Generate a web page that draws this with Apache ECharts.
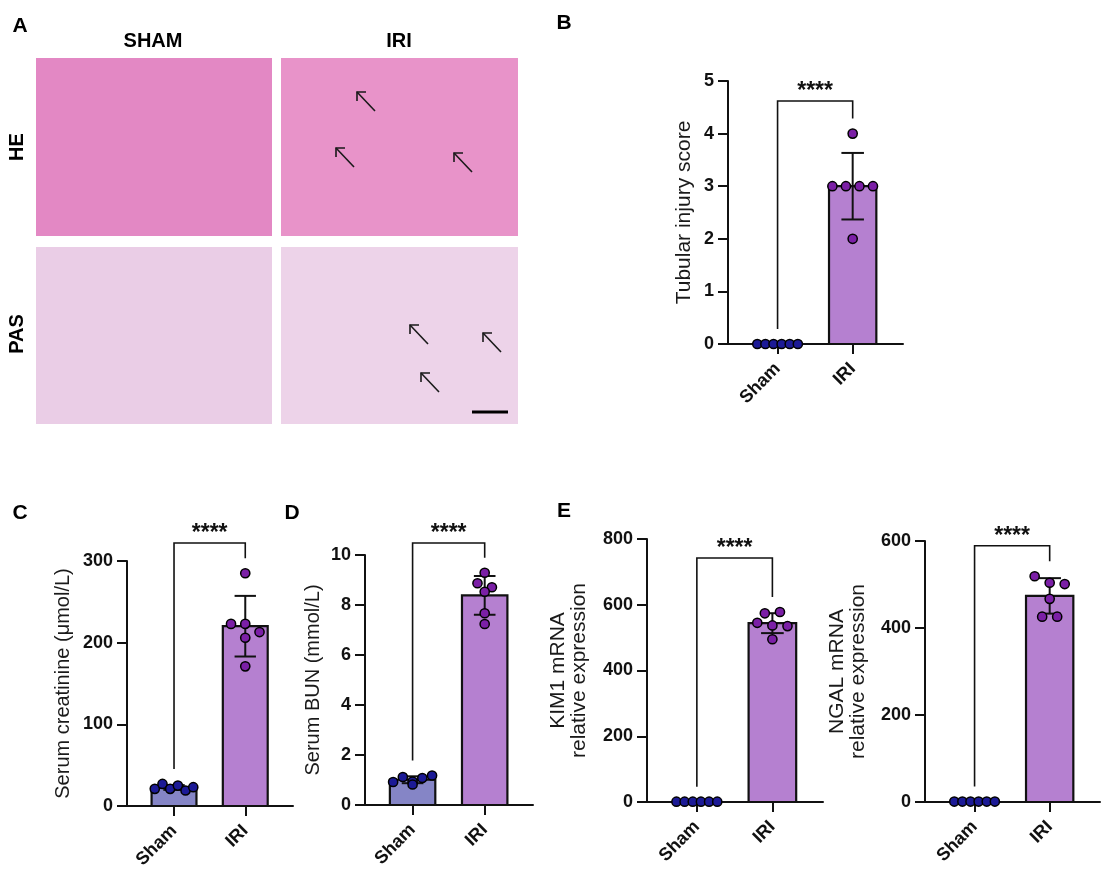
<!DOCTYPE html>
<html><head><meta charset="utf-8">
<script src="https://cdn.jsdelivr.net/npm/echarts@6/dist/echarts.min.js"></script>
<style>html,body{margin:0;padding:0;background:#fff}#c{width:1112px;height:876px}</style>
</head><body><div id="c"></div><script>
// ---------------- data ----------------
const groups = ['Sham', 'IRI'];
const injuryShamValues = [0, 0, 0, 0, 0, 0];
const injuryIriValues = [4, 3, 3, 3, 3, 2];
const creatShamValues = [21, 27, 21, 25, 19, 23];
const creatIriValues = [285, 223, 223, 213, 206, 171];
const bunShamValues = [0.92, 1.12, 0.94, 1.08, 1.18, 0.82];
const bunIriValues = [9.29, 8.87, 8.71, 8.53, 7.67, 7.24];
const kimShamValues = [1, 1, 1, 1, 1, 1];
const kimIriValues = [574, 578, 545, 537, 535, 495];
const ngalShamValues = [1, 1, 1, 1, 1, 1];
const ngalIriValues = [519, 504, 501, 467, 426, 426];
const injuryTicks = [0, 5, 1];
const creatTicks = [0, 300, 100];
const bunTicks = [0, 10, 2];
const kimTicks = [0, 800, 200];
const ngalTicks = [0, 600, 200];
const sigLabel = '****';
const bracketTops = [4.62, 322, 10.48, 742, 589];

// ---------------- style / layout ----------------
const FONT = 'Liberation Sans, Arial, sans-serif';
const INK = '#111';
const barColors = ['#8585c6', '#b580d0'];
const dotColors = ['#1c1a96', '#7b1fa6'];
const BAR_HALF = 0.315, CAP_HALF = 0.15, MAX_STEP = 0.2, ROW_SPAN = 0.54, ROW_TOL = 8.4, LEG_GAP = 15;
const X_MIN = -0.66, X_MAX = 1.67;

const panels = [
  {sham: injuryShamValues, iri: injuryIriValues, ticks: injuryTicks, title: 'Tubular injury score',
   grid: {left: 728, top: 81, width: 175, height: 263}, nameGap: 33, nameSize: 21},
  {sham: creatShamValues, iri: creatIriValues, ticks: creatTicks, title: 'Serum creatinine (\u03bcmol/L)',
   grid: {left: 127, top: 561, width: 166, height: 245}, nameGap: 53, nameSize: 20},
  {sham: bunShamValues, iri: bunIriValues, ticks: bunTicks, title: 'Serum BUN (mmol/L)',
   grid: {left: 365, top: 555, width: 168, height: 250}, nameGap: 41, nameSize: 20},
  {sham: kimShamValues, iri: kimIriValues, ticks: kimTicks, title: 'KIM1 mRNA\nrelative expression',
   grid: {left: 647, top: 539, width: 176, height: 263}, nameGap: 57, nameSize: 21},
  {sham: ngalShamValues, iri: ngalIriValues, ticks: ngalTicks, title: 'NGAL mRNA\nrelative expression',
   grid: {left: 925, top: 541, width: 175, height: 261}, nameGap: 56, nameSize: 21}
];

function mean(a) { return a.reduce((s, v) => s + v, 0) / a.length; }
function sd(a) { const m = mean(a); return Math.sqrt(a.reduce((s, v) => s + (v - m) * (v - m), 0) / (a.length - 1)); }

function swarm(vals, pxPerUnit) {
  const order = vals.map((v, i) => i).sort((a, b) => vals[b] - vals[a] || a - b);
  const rows = []; let cur = null;
  order.forEach(i => {
    if (cur && (vals[cur[0]] - vals[i]) * pxPerUnit <= ROW_TOL) cur.push(i);
    else { cur = [i]; rows.push(cur); }
  });
  const off = new Array(vals.length).fill(0);
  rows.forEach(r => {
    r.sort((a, b) => a - b);
    const n = r.length, step = n > 1 ? Math.min(MAX_STEP, ROW_SPAN / (n - 1)) : 0;
    r.forEach((i, k) => { off[i] = (k - (n - 1) / 2) * step; });
  });
  return off;
}

const grids = [], xAxes = [], yAxes = [], series = [];
panels.forEach((p, pi) => {
  const sets = [p.sham, p.iri];
  grids.push(Object.assign({containLabel: false}, p.grid));
  xAxes.push({
    type: 'value', gridIndex: pi, min: X_MIN, max: X_MAX,
    axisLine: {show: true, onZero: false, lineStyle: {color: INK, width: 2}},
    axisTick: {show: true, customValues: [0, 1], length: 10, lineStyle: {color: INK, width: 2}},
    axisLabel: {customValues: [0, 1], formatter: v => groups[Math.round(v)], rotate: 45, margin: 22,
      fontSize: 18, fontWeight: 'bold', color: INK, fontFamily: FONT},
    splitLine: {show: false}
  });
  yAxes.push({
    type: 'value', gridIndex: pi, min: p.ticks[0], max: p.ticks[1], interval: p.ticks[2],
    name: p.title, nameLocation: 'middle', nameGap: p.nameGap,
    nameTextStyle: {fontSize: p.nameSize, color: '#1a1a1a', fontFamily: FONT, lineHeight: 21},
    axisLine: {show: true, onZero: false, lineStyle: {color: INK, width: 2}},
    axisTick: {show: true, length: 10, lineStyle: {color: INK, width: 2}},
    axisLabel: {fontSize: 18, fontWeight: 'bold', color: INK, margin: 14, fontFamily: FONT},
    splitLine: {show: false}
  });
  // bars
  series.push({
    type: 'custom', xAxisIndex: pi, yAxisIndex: pi, clip: false, z: 2,
    data: sets.map((s, k) => [k, mean(s)]),
    renderItem: (params, api) => {
      const x = api.value(0), y = api.value(1);
      const a = api.coord([x - BAR_HALF, y]), b = api.coord([x + BAR_HALF, 0]);
      return {type: 'rect', shape: {x: a[0], y: a[1], width: b[0] - a[0], height: b[1] - a[1]},
        style: {fill: barColors[x], stroke: INK, lineWidth: 2.2}};
    }
  });
  // error bars (mean +/- SD)
  series.push({
    type: 'custom', xAxisIndex: pi, yAxisIndex: pi, clip: false, z: 3,
    data: sets.map((s, k) => [k, mean(s), sd(s)]),
    renderItem: (params, api) => {
      const x = api.value(0), m = api.value(1), e = api.value(2);
      if (e <= 0) return null;
      const hi = api.coord([x, m + e]), lo = api.coord([x, m - e]);
      const cl = api.coord([x - CAP_HALF, m + e])[0], cr = api.coord([x + CAP_HALF, m + e])[0];
      const st = {stroke: INK, lineWidth: 2};
      return {type: 'group', children: [
        {type: 'line', shape: {x1: hi[0], y1: hi[1], x2: lo[0], y2: lo[1]}, style: st},
        {type: 'line', shape: {x1: cl, y1: hi[1], x2: cr, y2: hi[1]}, style: st},
        {type: 'line', shape: {x1: cl, y1: lo[1], x2: cr, y2: lo[1]}, style: st}
      ]};
    }
  });
  // individual points
  const pts = [];
  sets.forEach((s, k) => s.forEach((v, j) => pts.push([k, v, j])));
  series.push({
    type: 'custom', xAxisIndex: pi, yAxisIndex: pi, clip: false, z: 4,
    data: pts,
    renderItem: (params, api) => {
      const k = api.value(0), v = api.value(1), j = api.value(2);
      const pxPerUnit = api.size([0, 1])[1];
      const off = swarm(sets[k], pxPerUnit)[j];
      const c = api.coord([k + off, v]);
      return {type: 'circle', shape: {cx: c[0], cy: c[1], r: 4.6},
        style: {fill: dotColors[k], stroke: '#000', lineWidth: 1.5}};
    }
  });
  // significance bracket
  series.push({
    type: 'custom', xAxisIndex: pi, yAxisIndex: pi, clip: false, z: 5,
    data: [[0, 1, bracketTops[pi]]],
    renderItem: (params, api) => {
      const pxPerUnit = api.size([0, 1])[1];
      const top = api.value(2);
      const lEnd = Math.max(...sets[0]) + LEG_GAP / pxPerUnit;
      const rEnd = Math.max(...sets[1]) + LEG_GAP / pxPerUnit;
      const a = api.coord([0, lEnd]), b = api.coord([0, top]), c = api.coord([1, top]), d = api.coord([1, rEnd]);
      return {type: 'group', children: [
        {type: 'polyline', shape: {points: [a, b, c, d]}, style: {stroke: INK, lineWidth: 1.6, fill: null}},
        {type: 'text', x: (b[0] + c[0]) / 2, y: b[1] - 9,
          style: {text: sigLabel, fontSize: 23, fontWeight: 'bold', fill: INK, fontFamily: FONT,
            align: 'center', verticalAlign: 'middle'}}
      ]};
    }
  });
});

// ---------------- panel A (histology placeholders) ----------------
const imgCols = [[36, 272], [281, 518]];
const imgRows = [[58, 236], [247, 424]];
const imgFills = [['#e388c4', '#e893c9'], ['#eacde6', '#edd3e9']];
const arrows = [[357, 92], [336, 148], [454, 153], [410, 325], [483, 333], [421, 373]];
const graphic = [];
imgRows.forEach((r, ri) => imgCols.forEach((c, ci) => {
  graphic.push({type: 'rect', shape: {x: c[0], y: r[0], width: c[1] - c[0], height: r[1] - r[0]},
    style: {fill: imgFills[ri][ci]}});
}));
arrows.forEach(t => {
  graphic.push({type: 'polyline', shape: {points: [[t[0] + 18, t[1] + 19], [t[0], t[1]]]}, style: {stroke: '#1a1a1a', lineWidth: 1.6, fill: null}});
  graphic.push({type: 'polyline', shape: {points: [[t[0] + 9, t[1]], [t[0], t[1]], [t[0], t[1] + 9]]}, style: {stroke: '#1a1a1a', lineWidth: 1.6, fill: null}});
});
graphic.push({type: 'line', shape: {x1: 472, y1: 412, x2: 508, y2: 412}, style: {stroke: '#000', lineWidth: 3}});
const txt = (text, x, y, size, extra) => Object.assign({type: 'text', x: x, y: y,
  style: {text: text, fontSize: size, fontWeight: 'bold', fill: '#000', fontFamily: FONT, align: 'center', verticalAlign: 'middle'}}, extra || {});
graphic.push(txt('SHAM', 153, 41, 20));
graphic.push(txt('IRI', 399, 41, 20));
graphic.push(txt('HE', 17, 147, 20, {rotation: Math.PI / 2}));
graphic.push(txt('PAS', 17, 334, 20, {rotation: Math.PI / 2}));
[['A', 20, 26], ['B', 564, 23], ['C', 20, 513], ['D', 292, 513], ['E', 564, 511]].forEach(l => graphic.push(txt(l[0], l[1], l[2], 21)));

const chart = echarts.init(document.getElementById('c'), null, {renderer: 'canvas'});
chart.setOption({
  animation: false,
  backgroundColor: '#fff',
  textStyle: {fontFamily: FONT},
  grid: grids, xAxis: xAxes, yAxis: yAxes, series: series, graphic: graphic
});
</script></body></html>
